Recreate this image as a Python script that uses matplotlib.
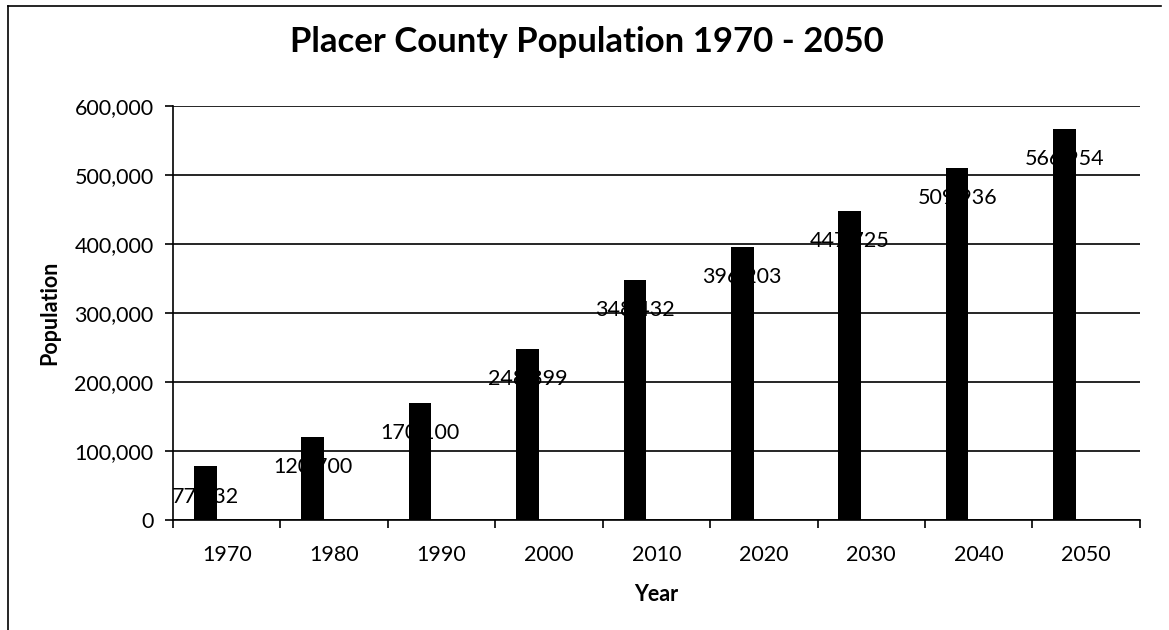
import matplotlib.pyplot as plt
import numpy as np
from matplotlib.lines import Line2D

plt.rcParams['font.family'] = ['Lato', 'DejaVu Sans']

years = ["1970", "1980", "1990", "2000", "2010", "2020", "2030", "2040", "2050"]
population = [77632, 120700, 170100, 248399, 348432, 396203, 447725, 509936, 566954]
yticks = [0, 100000, 200000, 300000, 400000, 500000, 600000]

fig = plt.figure(figsize=(11.69, 6.3), dpi=100)
ax = fig.add_axes([0.148, 0.1746, 0.827, 0.657])

x = np.arange(len(years))
bar_x = x - 0.2

# labels sit behind the bars, like the original
for bx, v in zip(bar_x, population):
    ax.annotate(f"{v:,}", (bx, v), xytext=(0, -21), textcoords="offset points",
                ha="center", va="center", fontsize=15.5, zorder=2)

ax.bar(bar_x, population, width=0.21, color="black", zorder=3)

ax.set_xlim(-0.5, len(years) - 0.5)
ax.set_ylim(0, 600000)
ax.set_yticks(yticks)
ax.set_yticklabels([f"{t:,}" for t in yticks], fontsize=15.5)
ax.yaxis.grid(True, color="black", linewidth=1.2, zorder=1)
ax.set_axisbelow(True)

ax.set_xticks(x)
ax.set_xticklabels(years, fontsize=15.5)
ax.set_xticks(np.arange(-0.5, len(years)), minor=True)
ax.tick_params(axis="x", which="major", length=0, pad=18)
ax.tick_params(axis="x", which="minor", length=6, width=1.2, direction="out")
ax.tick_params(axis="y", length=6, width=1.2, direction="out", pad=8)

for s in ["top", "right"]:
    ax.spines[s].set_visible(False)
for s in ["left", "bottom"]:
    ax.spines[s].set_linewidth(1.2)

ax.set_xlabel("Year", fontsize=15.5, fontweight="bold", labelpad=14)
ax.set_ylabel("Population", fontsize=15.5, fontweight="bold", labelpad=10)

fig.text(0.502, 0.933, "Placer County Population 1970 - 2050", ha="center",
         va="center", fontsize=25, fontweight="bold")

# outer chart frame (left and top edges visible in the scan)
fig.add_artist(Line2D([0.007, 0.007], [0.0, 0.99], color="black", linewidth=1.2))
fig.add_artist(Line2D([0.007, 0.993], [0.99, 0.99], color="black", linewidth=1.2))

fig.savefig("out.png", dpi=100)
